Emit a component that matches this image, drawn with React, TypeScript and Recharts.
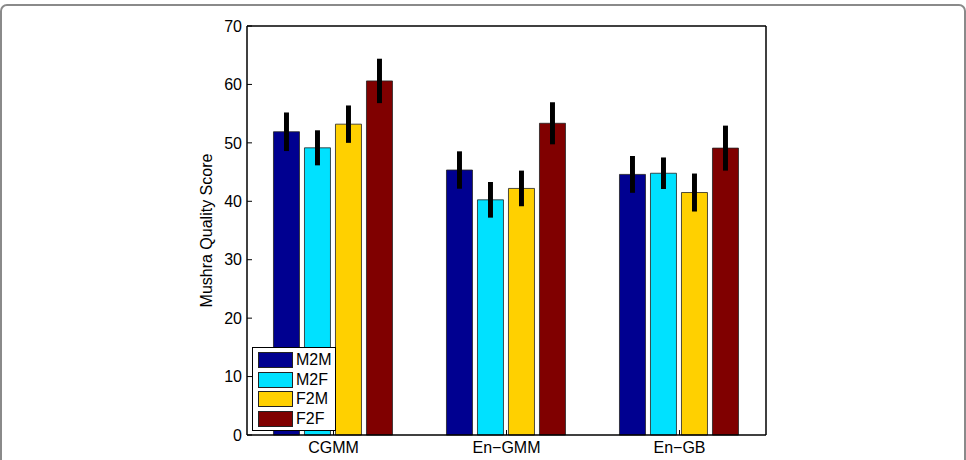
import { BarChart, Bar, XAxis, YAxis, ErrorBar, Legend, Label } from "recharts";

const categories = ["CGMM", "En\u2212GMM", "En\u2212GB"];

const seriesNames = ["M2M", "M2F", "F2M", "F2F"];
const seriesColors = ["#000090", "#00E1FF", "#FFD000", "#800000"];

// mean scores per method
const m2m = [51.9, 45.35, 44.6];
const m2f = [49.15, 40.25, 44.8];
const f2m = [53.2, 42.2, 41.5];
const f2f = [60.6, 53.35, 49.1];

// half-length of the error bars
const m2mErr = [3.3, 3.2, 3.15];
const m2fErr = [3.0, 3.05, 2.7];
const f2mErr = [3.2, 3.05, 3.25];
const f2fErr = [3.8, 3.6, 3.85];

const yTicks = [0, 10, 20, 30, 40, 50, 60, 70];

const values = [m2m, m2f, f2m, f2f];
const errors = [m2mErr, m2fErr, f2mErr, f2fErr];

const data = categories.map((name, i) => {
  const row: Record<string, string | number> = { name };
  seriesNames.forEach((s, k) => {
    row[s] = values[k][i];
    row[s + "Err"] = errors[k][i];
  });
  return row;
});

const FONT = '"Liberation Sans", Arial, Helvetica, sans-serif';

const LegendBox = () => (
  <div
    style={{
      border: "1.5px solid #000",
      background: "#fff",
      width: 82,
      padding: "2px 0 1px 0",
      fontFamily: FONT,
      fontSize: 16,
      color: "#000",
    }}
  >
    {seriesNames.map((s, k) => (
      <div
        key={s}
        style={{ display: "flex", alignItems: "center", height: 19.7, paddingLeft: 5 }}
      >
        <span
          style={{
            display: "inline-block",
            width: 33,
            height: 14,
            background: seriesColors[k],
            border: "1px solid #222",
            marginRight: 3,
          }}
        />
        <span>{s}</span>
      </div>
    ))}
  </div>
);

export default function App() {
  return (
    <div
      style={{
        position: "absolute",
        left: 0,
        top: 0,
        width: 966,
        height: 460,
        overflow: "hidden",
        background: "#fff",
      }}
    >
      <BarChart
        width={966}
        height={460}
        data={data}
        margin={{ top: 25, right: 199, left: 197, bottom: 0 }}
        barCategoryGap="15.3%"
        barGap={5}
      >
        <XAxis
          dataKey="name"
          height={25}
          tickSize={-5}
          tickMargin={12}
          axisLine={{ stroke: "#000", strokeWidth: 1.5 }}
          tickLine={{ stroke: "#000" }}
          tick={{ fill: "#000", fontSize: 16, fontFamily: FONT }}
        />
        <XAxis
          xAxisId="top"
          orientation="top"
          dataKey="name"
          height={1}
          tickSize={-5}
          tick={false}
          axisLine={{ stroke: "#000", strokeWidth: 1.5 }}
          tickLine={{ stroke: "#000" }}
        />
        <YAxis
          domain={[0, 70]}
          ticks={yTicks}
          width={50}
          tickSize={-5}
          tickMargin={10}
          axisLine={{ stroke: "#000", strokeWidth: 1.5 }}
          tickLine={{ stroke: "#000" }}
          tick={{ fill: "#000", fontSize: 16, fontFamily: FONT }}
        >
          <Label
            value="Mushra Quality Score"
            angle={-90}
            position="center"
            dx={-16}
            style={{ fill: "#000", fontSize: 16, fontFamily: FONT }}
          />
        </YAxis>
        <YAxis
          yAxisId="right"
          orientation="right"
          domain={[0, 70]}
          ticks={yTicks}
          width={1}
          tickSize={-5}
          tick={false}
          axisLine={{ stroke: "#000", strokeWidth: 1.5 }}
          tickLine={{ stroke: "#000" }}
        />
        <Legend
          layout="vertical"
          align="center"
          verticalAlign="middle"
          content={() => <LegendBox />}
          wrapperStyle={{ left: 252, top: 347, width: 86 }}
        />
        {seriesNames.map((s, k) => (
          <Bar
            key={s}
            dataKey={s}
            fill={seriesColors[k]}
            stroke="#222"
            strokeWidth={0.8}
            isAnimationActive={false}
          >
            <ErrorBar
              dataKey={s + "Err"}
              direction="y"
              width={0}
              stroke="#000"
              strokeWidth={5}
            />
          </Bar>
        ))}
      </BarChart>
      {/* rounded page frame, open at the bottom */}
      <div
        style={{
          position: "absolute",
          left: 0,
          top: 4,
          width: 962,
          height: 480,
          border: "2px solid #8a8a8a",
          borderRadius: 7,
          pointerEvents: "none",
          zIndex: 5,
        }}
      />
    </div>
  );
}
